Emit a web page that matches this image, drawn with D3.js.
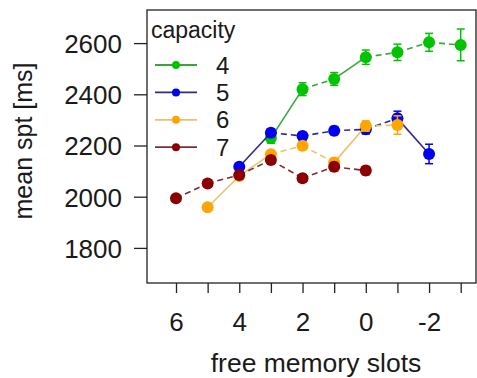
<!DOCTYPE html>
<html><head><meta charset="utf-8">
<script src="https://cdn.jsdelivr.net/npm/d3@7"></script>
<style>body{margin:0;background:#fff}svg{display:block}text{font-family:"Liberation Sans",Arial,sans-serif;fill:#1a1a1a}</style>
</head><body><svg id="c" width="477" height="378"></svg>
<script>
const capacities = ["4","5","6","7"];
const slots4 = [3,2,1,0,-1,-2,-3];
const mean4 = [2229,2420,2460,2545,2564,2603,2593];
const err4 = [20,25,25,28,32,35,62];
const slots5 = [4,3,2,1,0,-1,-2];
const mean5 = [2117,2250,2237,2258,2263,2306,2167];
const err5 = [12,14,14,16,18,28,38];
const slots6 = [5,4,3,2,1,0,-1];
const mean6 = [1959,2081,2166,2199,2134,2276,2280];
const err6 = [12,12,14,15,16,20,36];
const slots7 = [6,5,4,3,2,1,0];
const mean7 = [1994,2052,2085,2143,2072,2117,2102];
const err7 = [12,12,12,14,14,16,16];
const xTicks = [6,5,4,3,2,1,0,-1,-2,-3];
const xTickLabels = [6,4,2,0,-2];
const yTicks = [1800,2000,2200,2400,2600];
const pointColors = ["#00c400","#0000ee","#ffa500","#8b0000"];
const lineColors = ["#3aa63a","#2c2c8c","#e8c36a","#7a3030"];

const series = [
  {slots:slots4, mean:mean4, err:err4},
  {slots:slots5, mean:mean5, err:err5},
  {slots:slots6, mean:mean6, err:err6},
  {slots:slots7, mean:mean7, err:err7}
];

const svg = d3.select("#c");
const box = {l:147, r:476, t:10, b:283};
const x = d3.scaleLinear().domain([6,-3]).range([176,460.7]);
const y = d3.scaleLinear().domain([2000,2600]).range([196.7,43.1]);

svg.append("rect").attr("x",box.l).attr("y",box.t).attr("width",box.r-box.l).attr("height",box.b-box.t)
  .attr("fill","none").attr("stroke","#222").attr("stroke-width",1.3);

const ya = svg.append("g").attr("transform",`translate(${box.l},0)`)
  .call(d3.axisLeft(y).tickValues(yTicks).tickSize(13).tickPadding(12).tickFormat(d3.format("d")));
ya.select(".domain").remove();
ya.selectAll("line").attr("stroke","#222").attr("stroke-width",1.3);
ya.selectAll("text").attr("font-size",26).attr("fill","#1a1a1a").attr("dy","0.36em")
  .style("font-family","'Liberation Sans',Arial,sans-serif");

const xa = svg.append("g").attr("transform",`translate(0,${box.b})`)
  .call(d3.axisBottom(x).tickValues(xTicks).tickSize(10).tickPadding(20)
    .tickFormat(d => xTickLabels.includes(d) ? d3.format("d")(d).replace("−","-") : ""));
xa.select(".domain").remove();
xa.selectAll("line").attr("stroke","#222").attr("stroke-width",1.3);
xa.selectAll("text").attr("font-size",26).attr("fill","#1a1a1a")
  .style("font-family","'Liberation Sans',Arial,sans-serif");

svg.append("text").attr("x",316).attr("y",372).attr("text-anchor","middle").attr("font-size",26.5).text("free memory slots");
svg.append("text").attr("transform","translate(32,141) rotate(-90)").attr("text-anchor","middle").attr("font-size",25).text("mean spt [ms]");

series.forEach((s,i) => {
  const pts = s.slots.map((v,j)=>({x:v,y:s.mean[j],e:s.err[j]}));
  const g = svg.append("g");
  for (let j=0;j<pts.length-1;j++){
    const a=pts[j], b=pts[j+1];
    const dy = Math.abs(y(a.y)-y(b.y));
    g.append("line").attr("x1",x(a.x)).attr("y1",y(a.y)).attr("x2",x(b.x)).attr("y2",y(b.y))
      .attr("stroke",lineColors[i]).attr("stroke-width",1.6)
      .attr("stroke-dasharray", dy>20 ? null : "6,4");
  }
  pts.forEach(p=>{
    const cx=x(p.x), y0=y(p.y-p.e), y1=y(p.y+p.e);
    g.append("line").attr("x1",cx).attr("x2",cx).attr("y1",y0).attr("y2",y1).attr("stroke",pointColors[i]).attr("stroke-width",1.5);
    g.append("line").attr("x1",cx-4).attr("x2",cx+4).attr("y1",y0).attr("y2",y0).attr("stroke",pointColors[i]).attr("stroke-width",1.5);
    g.append("line").attr("x1",cx-4).attr("x2",cx+4).attr("y1",y1).attr("y2",y1).attr("stroke",pointColors[i]).attr("stroke-width",1.5);
    g.append("circle").attr("cx",cx).attr("cy",y(p.y)).attr("r",6).attr("fill",pointColors[i]);
  });
});

const lg = svg.append("g");
lg.append("text").attr("x",151).attr("y",38).attr("font-size",23).text("capacity");
capacities.forEach((c,i)=>{
  const yy = 65 + i*27.4;
  lg.append("line").attr("x1",155).attr("x2",197).attr("y1",yy).attr("y2",yy).attr("stroke",lineColors[i]).attr("stroke-width",1.8);
  lg.append("circle").attr("cx",176).attr("cy",yy).attr("r",4).attr("fill",pointColors[i]);
  lg.append("text").attr("x",216).attr("y",yy+8.5).attr("font-size",24).text(c);
});
</script></body></html>
